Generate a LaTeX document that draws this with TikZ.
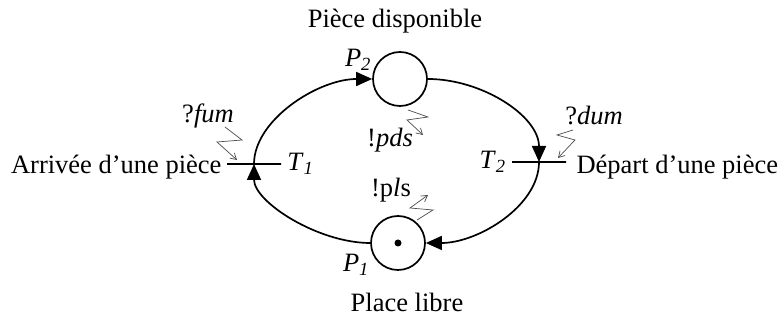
\documentclass[tikz,border=0pt]{standalone}
\usepackage{fontspec}
\setmainfont{Liberation Serif}
\usepackage{tikz}
\usetikzlibrary{arrows.meta, positioning}

\begin{document}
\begin{tikzpicture}[
  x=1pt, y=1pt,
  every node/.style={font=\fontsize{26.5}{31}\selectfont},
  place/.style={circle, draw, line width=1.7pt, minimum size=54pt, inner sep=0pt},
  trans/.style={draw, rectangle, line width=1.6pt, minimum width=54pt,
                minimum height=0pt, inner sep=0pt},
  token/.style={circle, fill, minimum size=7pt, inner sep=0pt},
  arc/.style={-{Triangle[length=16pt, width=14pt]}, line width=1.7pt},
  event/.style={-{Straight Barb[length=6pt, width=7pt]}, line width=0.7pt, draw=black!70}
]
  \useasboundingbox (0,0) rectangle (781,320);

  % places et transitions
  \node[place] (p2) at (400,241) {};
  \node[place] (p1) at (398,77) {};
  \node[token] (tok) at (p1.center) {};
  \node[trans] (t1) at (254,156) {};
  \node[trans] (t2) at (539,158) {};

  % textes
  \node (dispo) at (395,299) {Pièce disponible};
  \node (libre) at (407,18) {Place libre};
  \node (lp2) at (358,260) {\textit{P}\textsubscript{\textit{2}}};
  \node (lp1) at (356,55) {\textit{P}\textsubscript{\textit{1}}};
  \node[right=2pt of t1] (lt1) {\textit{T}\textsubscript{\textit{1}}};
  \node[left=2pt of t2] (lt2) {\textit{T}\textsubscript{\textit{2}}};
  \node[anchor=base east] (arrivee) at (225,146) {Arrivée d’une pièce};
  \node[anchor=base west] (depart) at (573,146) {Départ d’une pièce};
  \node (fum) at (208,204) {?\textit{fum}};
  \node (dum) at (594,204) {?\textit{dum}};
  \node (pds) at (390,180) {!\textit{pds}};
  \node (pls) at (391,130) {!p\textit{l}s};

  % arcs
  \draw[arc] (p1.west) .. controls (318,77) and (t1.center |- 0,118) .. (t1.center);
  \draw[arc] (t1.center) .. controls (t1.center |- 0,200) and (318,241) .. (p2.west);
  \draw[arc] (p2.east) .. controls (482,241) and (t2.center |- 0,204) .. (t2.center);
  \draw[arc] (t2.center) .. controls (t2.center |- 0,114) and (478,77) .. (p1.east);

  % evenements
  \coordinate (efum) at (225,193);
  \coordinate (edum) at (573,190);
  \coordinate (epds) at (408,210);
  \coordinate (epls) at (417,100);
  \draw[event] (efum) -- (242,180) -- (217,178) -- (237,160);
  \draw[event] (edum) -- (557,185) -- (575,180) -- (558,162);
  \draw[event] (epds) -- (428,203) -- (407,200) -- (423,185);
  \draw[event] (epls) -- (433,110) -- (410,112) -- (428,125);

\end{tikzpicture}
\end{document}
